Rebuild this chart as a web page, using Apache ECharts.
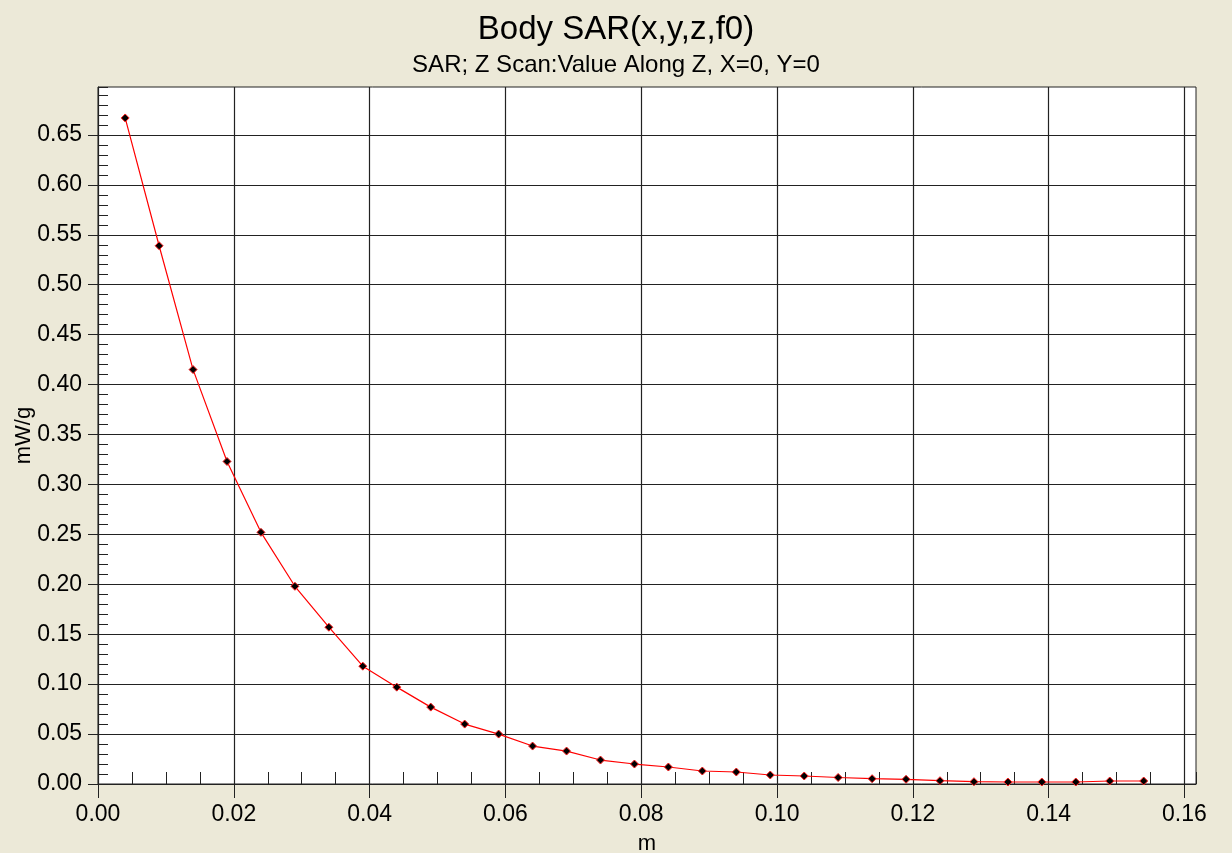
<!DOCTYPE html>
<html>
<head>
<meta charset="utf-8">
<script src="https://cdn.jsdelivr.net/npm/echarts@6/dist/echarts.min.js"></script>
<style>
  html, body { margin: 0; padding: 0; background: #ECE9D8; }
  #chart { width: 1232px; height: 853px; }
</style>
</head>
<body>
<div id="chart"></div>
<script>
// Scan positions along Z (m)
const zPositions = [0.004, 0.009, 0.014, 0.019, 0.024, 0.029, 0.034, 0.039, 0.044, 0.049,
                    0.054, 0.059, 0.064, 0.069, 0.074, 0.079, 0.084, 0.089, 0.094, 0.099,
                    0.104, 0.109, 0.114, 0.119, 0.124, 0.129, 0.134, 0.139, 0.144, 0.149, 0.154];
// SAR values (mW/g)
const sarValues = [0.667, 0.539, 0.415, 0.323, 0.252, 0.198, 0.157, 0.118, 0.097, 0.077,
                   0.060, 0.050, 0.038, 0.033, 0.024, 0.020, 0.017, 0.013, 0.012, 0.009,
                   0.008, 0.0065, 0.0053, 0.0047, 0.0033, 0.0023, 0.002, 0.002, 0.002, 0.003, 0.003];
// Major tick values
const xTicks = [0, 0.02, 0.04, 0.06, 0.08, 0.10, 0.12, 0.14, 0.16];
const yTicks = [0, 0.05, 0.10, 0.15, 0.20, 0.25, 0.30, 0.35, 0.40, 0.45, 0.50, 0.55, 0.60, 0.65];

const chartTitle = 'Body SAR(x,y,z,f0)';
const chartSubtitle = 'SAR; Z Scan:Value Along Z, X=0, Y=0';
const xName = 'm';
const yName = 'mW/g';

const X_MAX = 0.1617;
const Y_MAX = 0.698;
const FONT = 'Arial, "Liberation Sans", sans-serif';

const chart = echarts.init(document.getElementById('chart'), null, { renderer: 'canvas' });

const points = zPositions.map((z, i) => [z, sarValues[i]]);

chart.setOption({
  animation: false,
  backgroundColor: '#ECE9D8',
  title: {
    text: chartTitle,
    subtext: chartSubtitle,
    left: 'center',
    top: 8,
    itemGap: 7,
    textStyle: { fontFamily: FONT, fontSize: 33, fontWeight: 'normal', color: '#000' },
    subtextStyle: { fontFamily: FONT, fontSize: 24, color: '#000' }
  },
  grid: {
    left: 98, right: 36, top: 87, bottom: 69,
    outerBoundsMode: 'none',
    containLabel: false,
    show: true, backgroundColor: '#ffffff', borderColor: '#222', borderWidth: 1
  },
  xAxis: [
    {
      type: 'value', min: 0, max: X_MAX, interval: 0.02,
      name: xName, nameLocation: 'middle', nameGap: 49, nameMoveOverlap: false,
      nameTextStyle: { fontFamily: FONT, fontSize: 22, color: '#000' },
      axisLine: { show: true, lineStyle: { color: '#222', width: 1 } },
      axisTick: { show: true, inside: false, length: 14, customValues: xTicks,
                  lineStyle: { color: '#222', width: 1 } },
      axisLabel: { customValues: xTicks, margin: 19, fontFamily: FONT, fontSize: 23, color: '#000',
                   formatter: v => v.toFixed(2) },
      splitLine: { show: true, lineStyle: { color: '#222', width: 1.2 } }
    },
    {
      // inner minor ticks every 0.005
      type: 'value', position: 'bottom', min: 0, max: X_MAX, interval: 0.005,
      axisLine: { show: false },
      axisTick: { show: true, inside: true, length: 12, lineStyle: { color: '#222', width: 1 } },
      axisLabel: { show: false },
      splitLine: { show: false }
    }
  ],
  yAxis: [
    {
      type: 'value', min: 0, max: Y_MAX, interval: 0.05,
      name: yName, nameLocation: 'middle', nameGap: 63, nameRotate: 90, nameMoveOverlap: false,
      nameTextStyle: { fontFamily: FONT, fontSize: 22, color: '#000' },
      axisLine: { show: true, lineStyle: { color: '#222', width: 1 } },
      axisTick: { show: true, inside: false, length: 10, customValues: yTicks,
                  lineStyle: { color: '#222', width: 1 } },
      axisLabel: { customValues: yTicks, margin: 16, fontFamily: FONT, fontSize: 23, color: '#000',
                   formatter: v => v.toFixed(2) },
      splitLine: { show: true, lineStyle: { color: '#222', width: 1.2 } }
    },
    {
      // inner minor ticks every 0.01
      type: 'value', position: 'left', min: 0, max: Y_MAX, interval: 0.01,
      axisLine: { show: false },
      axisTick: { show: true, inside: true, length: 10, lineStyle: { color: '#222', width: 1 } },
      axisLabel: { show: false },
      splitLine: { show: false }
    }
  ],
  series: [
    {
      type: 'line',
      xAxisIndex: 0,
      yAxisIndex: 0,
      data: points,
      symbol: 'diamond',
      symbolSize: 8,
      lineStyle: { color: '#ff0000', width: 1.2 },
      itemStyle: { color: '#000000', borderColor: '#ff2020', borderWidth: 1 },
      z: 5
    }
  ]
});
</script>
</body>
</html>
